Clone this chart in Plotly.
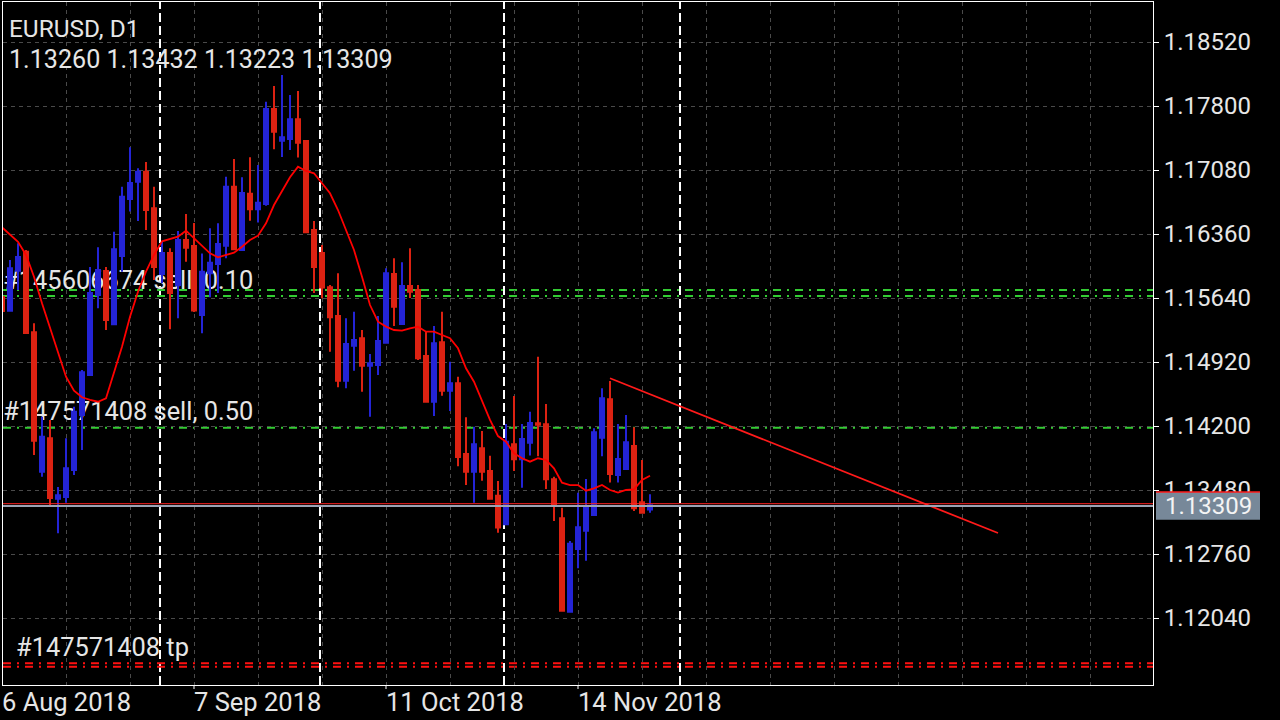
import plotly.graph_objects as go

# ---------------- data ----------------
symbol_title = "EURUSD, D1"
ohlc_title = "1.13260 1.13432 1.13223 1.13309"

bar_index = list(range(82))  # daily bars starting 6 Aug 2018

open_prices = [1.15651, 1.15497, 1.15947, 1.16161, 1.15254, 1.13686, 1.14061, 1.13382, 1.13401, 1.13705,
               1.14324, 1.14774, 1.15674, 1.15944, 1.15344, 1.16113, 1.16754, 1.16948, 1.17061, 1.16649,
               1.15910, 1.16146, 1.15786, 1.16293, 1.16225, 1.15449, 1.15918, 1.16023, 1.16228, 1.16892,
               1.16180, 1.16814, 1.16638, 1.16698, 1.17766, 1.17410, 1.17429, 1.17650, 1.17406, 1.16405,
               1.16146, 1.15760, 1.15437, 1.14710, 1.15103, 1.15187, 1.14878, 1.14887, 1.15137, 1.15910,
               1.15347, 1.15775, 1.15730, 1.14988, 1.14473, 1.15142, 1.14597, 1.14680, 1.13885, 1.13686,
               1.13949, 1.13694, 1.13415, 1.13094, 1.13994, 1.13825, 1.14012, 1.14230, 1.14219, 1.13600,
               1.13162, 1.12111, 1.12816, 1.13022, 1.13199, 1.14068, 1.14500, 1.13649, 1.13716, 1.13975,
               1.13342, 1.13260]
high_prices = [1.15719, 1.16068, 1.16255, 1.16180, 1.15355, 1.14305, 1.14268, 1.13513, 1.14061, 1.14417,
               1.14830, 1.15988, 1.16210, 1.15988, 1.16386, 1.16892, 1.17335, 1.17099, 1.17170, 1.16892,
               1.16273, 1.16199, 1.16394, 1.16585, 1.16484, 1.16140, 1.16424, 1.16480, 1.17005, 1.17204,
               1.16998, 1.17223, 1.17136, 1.17848, 1.18025, 1.18149, 1.17924, 1.17969, 1.17418, 1.16506,
               1.16236, 1.15786, 1.15918, 1.15412, 1.15486, 1.15280, 1.15010, 1.15437, 1.15974, 1.16087,
               1.16042, 1.16199, 1.15786, 1.15261, 1.15325, 1.15486, 1.14923, 1.14755, 1.14298, 1.14192,
               1.14144, 1.13866, 1.13581, 1.14223, 1.14538, 1.14223, 1.14361, 1.14980, 1.14448, 1.13629,
               1.13281, 1.12906, 1.13450, 1.13604, 1.14174, 1.14624, 1.14706, 1.14223, 1.14324, 1.14185,
               1.13818, 1.13432]
low_prices = [1.15449, 1.15486, 1.15730, 1.15240, 1.13874, 1.13630, 1.13292, 1.12993, 1.13337, 1.13649,
              1.13930, 1.14770, 1.15524, 1.15280, 1.15340, 1.15936, 1.16613, 1.16506, 1.16405, 1.15843,
              1.15809, 1.15288, 1.15412, 1.16048, 1.15482, 1.15243, 1.15648, 1.15696, 1.16087, 1.16185,
              1.16178, 1.16510, 1.16488, 1.16678, 1.17313, 1.17226, 1.17305, 1.17221, 1.16375, 1.15696,
              1.15636, 1.15036, 1.14635, 1.14624, 1.14822, 1.14586, 1.14305, 1.14774, 1.15135, 1.15325,
              1.15345, 1.15641, 1.14943, 1.14470, 1.14313, 1.14541, 1.14369, 1.13746, 1.13536, 1.13337,
              1.13585, 1.13379, 1.13000, 1.13090, 1.13694, 1.13506, 1.13868, 1.13860, 1.13491, 1.13131,
              1.12120, 1.12108, 1.12599, 1.12685, 1.13188, 1.13860, 1.13565, 1.13565, 1.13713, 1.13244,
              1.13222, 1.13223]
close_prices = [1.15494, 1.15974, 1.16101, 1.15246, 1.14035, 1.14080, 1.13389, 1.13420, 1.13724, 1.14361,
                1.14804, 1.15696, 1.15955, 1.15393, 1.16188, 1.16780, 1.16934, 1.17061, 1.16630, 1.15988,
                1.16146, 1.15696, 1.16293, 1.16206, 1.15499, 1.15936, 1.16037, 1.16248, 1.16892, 1.16188,
                1.16821, 1.16638, 1.16712, 1.17766, 1.17511, 1.17448, 1.17650, 1.17387, 1.16379, 1.15988,
                1.15758, 1.15423, 1.14710, 1.15123, 1.15168, 1.14878, 1.14905, 1.15156, 1.15918, 1.15542,
                1.15775, 1.15711, 1.14962, 1.14473, 1.15130, 1.14597, 1.14680, 1.13851, 1.13686, 1.13994,
                1.13686, 1.13382, 1.13058, 1.14023, 1.13825, 1.14054, 1.14234, 1.14215, 1.13600, 1.13311,
                1.12122, 1.12874, 1.13060, 1.13281, 1.14129, 1.14512, 1.13660, 1.13829, 1.14017, 1.13274,
                1.13225, 1.13309]
ma_values = [1.16435, 1.16359, 1.16273, 1.16124, 1.15879, 1.15580, 1.15299, 1.15017, 1.14755, 1.14597,
             1.14523, 1.14493, 1.14473, 1.14511, 1.14792, 1.15092, 1.15430, 1.15711, 1.15936, 1.16124,
             1.16278, 1.16300, 1.16330, 1.16397, 1.16312, 1.16217, 1.16143, 1.16098, 1.16124, 1.16150,
             1.16217, 1.16293, 1.16341, 1.16480, 1.16686, 1.16836, 1.16998, 1.17117, 1.17069, 1.17043,
             1.16930, 1.16818, 1.16630, 1.16405, 1.16180, 1.15879, 1.15561, 1.15374, 1.15318, 1.15280,
             1.15272, 1.15299, 1.15318, 1.15261, 1.15261, 1.15224, 1.15187, 1.15074, 1.14849, 1.14698,
             1.14493, 1.14268, 1.14087, 1.14023, 1.13893, 1.13837, 1.13799, 1.13837, 1.13818, 1.13724,
             1.13562, 1.13536, 1.13536, 1.13472, 1.13499, 1.13536, 1.13480, 1.13450, 1.13480, 1.13488,
             1.13593, 1.13641]

price_ticks = [1.18520, 1.17800, 1.17080, 1.16360, 1.15640, 1.14920, 1.14200, 1.13480, 1.12760, 1.12040]
date_tick_bars = [0, 24, 48, 72]
date_tick_labels = ["6 Aug 2018", "7 Sep 2018", "11 Oct 2018", "14 Nov 2018"]
grid_bars = list(range(0, 144, 8))
separator_bars = [20, 40, 63, 85]  # month starts: Sep, Oct, Nov, Dec

order_lines = [1.15730, 1.15663, 1.14181]
tp_lines = [1.11530, 1.11492]
order_labels = ["#145606674 sell, 0.10", "#147571408 sell, 0.50", "#147571408 tp"]
label_line_prices = [1.15663, 1.14181, 1.11530]
label_bars = [0.15, 0.15, 1.75]

trend_bars = [76, 124.5]
trend_prices = [1.14737, 1.12996]

bid_price = 1.13309
ask_price = 1.13326

# ---------------- geometry / style ----------------
X_RANGE = [0.125, 143.875]
Y_RANGE = [1.112863, 1.189700]
ML, MR, MT, MB = 3, 127, 2, 35
W, H = 1280, 720
PW, PH = W - ML - MR, H - MT - MB
PPX = (Y_RANGE[1] - Y_RANGE[0]) / PH  # price per pixel

RED = "#dc2212"
BLUE = "#2424d6"
GREEN = "#33cc33"
GRID = "#4a4a4a"
TXT = "#e6e6e6"
FONT = "Roboto"


def xpaper(px):
    return (px - ML) / PW


def ypaper(py):
    return (H - MB - py) / PH


def bar_paper(b):
    return (b - X_RANGE[0]) / (X_RANGE[1] - X_RANGE[0])


fig = go.Figure()

# order labels (under the candles)
fig.add_trace(go.Scatter(
    x=label_bars,
    y=[p + 13.7 * PPX for p in label_line_prices],
    mode="text", text=order_labels, textposition="middle right",
    textfont=dict(family=FONT, size=25.4, color=TXT),
    hoverinfo="skip", showlegend=False,
))

fig.add_trace(go.Candlestick(
    x=bar_index, open=open_prices, high=high_prices, low=low_prices, close=close_prices,
    xaxis="x2", yaxis="y2", whiskerwidth=0,
    increasing=dict(line=dict(color=BLUE, width=2), fillcolor=BLUE),
    decreasing=dict(line=dict(color=RED, width=2), fillcolor=RED),
    showlegend=False, hoverinfo="skip",
))

fig.add_trace(go.Scatter(
    x=bar_index, y=ma_values, mode="lines", xaxis="x2", yaxis="y2",
    line=dict(color="#ff0000", width=1.8), showlegend=False, hoverinfo="skip",
))

fig.add_trace(go.Scatter(
    x=trend_bars, y=trend_prices, mode="lines", xaxis="x2", yaxis="y2",
    line=dict(color="#ff1a1a", width=1.8), showlegend=False, hoverinfo="skip",
))

shapes = []
for b in separator_bars:
    shapes.append(dict(type="line", xref="x", yref="y", x0=b - 0.25, x1=b - 0.25,
                       y0=Y_RANGE[0], y1=Y_RANGE[1], layer="below",
                       line=dict(color="#ffffff", width=2, dash="9px,4px")))
for p in order_lines:
    shapes.append(dict(type="line", xref="x", yref="y", x0=X_RANGE[0], x1=X_RANGE[1],
                       y0=p, y1=p, layer="below",
                       line=dict(color=GREEN, width=2, dash="8px,6px,2px,6px")))
for p in tp_lines:
    shapes.append(dict(type="line", xref="x", yref="y", x0=X_RANGE[0], x1=X_RANGE[1],
                       y0=p, y1=p, layer="below",
                       line=dict(color="#ff1010", width=2, dash="8px,6px,2px,6px")))
# bid / ask lines
shapes.append(dict(type="line", xref="x", yref="y", x0=X_RANGE[0], x1=X_RANGE[1],
                   y0=ask_price, y1=ask_price, layer="above",
                   line=dict(color="#ff2020", width=1)))
shapes.append(dict(type="line", xref="x", yref="y", x0=X_RANGE[0], x1=X_RANGE[1],
                   y0=bid_price - 0.8 * PPX, y1=bid_price - 0.8 * PPX, layer="above",
                   line=dict(color="#9aa4b4", width=2)))
# date tick marks
for b in date_tick_bars[1:]:
    shapes.append(dict(type="line", xref="x", yref="paper", x0=b, x1=b,
                       y0=0, y1=-4 / PH, layer="above",
                       line=dict(color="#ffffff", width=1)))
# current price box
box_top = bid_price + 13.3 * PPX
box_bot = bid_price - 14.5 * PPX
shapes.append(dict(type="rect", xref="paper", yref="y", x0=xpaper(1156), x1=xpaper(1260),
                   y0=box_bot, y1=box_top, layer="above",
                   fillcolor="#778899", line=dict(width=0)))
shapes.append(dict(type="line", xref="paper", yref="y", x0=xpaper(1156), x1=xpaper(1260),
                   y0=box_top, y1=box_top, layer="above",
                   line=dict(color="#ff1a1a", width=1.5)))

annotations = [
    dict(text=symbol_title, xref="paper", yref="paper", x=xpaper(8), y=ypaper(29),
         xanchor="left", yanchor="middle", showarrow=False, borderpad=0,
         font=dict(family=FONT, size=24.4, color=TXT)),
    dict(text=ohlc_title, xref="paper", yref="paper", x=xpaper(8), y=ypaper(60),
         xanchor="left", yanchor="middle", showarrow=False, borderpad=0,
         font=dict(family=FONT, size=25.1, color=TXT)),
    dict(text=f"{bid_price:.5f}", xref="paper", yref="y", x=xpaper(1208), y=bid_price - 0.5 * PPX,
         xanchor="center", yanchor="middle", showarrow=False, borderpad=0,
         font=dict(family=FONT, size=24, color="#f4f4f4")),
]
for b, lab in zip(date_tick_bars, date_tick_labels):
    annotations.append(dict(text=lab, xref="paper", yref="paper",
                            x=bar_paper(b) - 1.5 / PW, y=ypaper(702),
                            xanchor="left", yanchor="middle", showarrow=False, borderpad=0,
                            font=dict(family=FONT, size=25.5, color=TXT)))

fig.update_layout(
    width=W, height=H,
    margin=dict(l=ML, r=MR, t=MT, b=MB, pad=0),
    paper_bgcolor="#000000", plot_bgcolor="#000000",
    font=dict(family=FONT, color=TXT),
    showlegend=False,
    boxgap=0.5, boxgroupgap=0,
    xaxis=dict(range=X_RANGE, tickvals=grid_bars, showticklabels=False, ticks="",
               showgrid=True, gridcolor=GRID, griddash="4px,4px", gridwidth=1,
               zeroline=False, showline=True, mirror=True, linecolor="#ffffff", linewidth=1,
               rangeslider=dict(visible=False), fixedrange=True),
    yaxis=dict(range=Y_RANGE, side="right", tickvals=price_ticks,
               ticktext=[f"{v:.5f}" for v in price_ticks],
               ticks="outside", ticklen=5, tickwidth=1, tickcolor="#ffffff",
               tickfont=dict(family=FONT, size=24, color=TXT),
               showgrid=True, gridcolor=GRID, griddash="4px,4px", gridwidth=1,
               zeroline=False, showline=True, mirror=True, linecolor="#ffffff", linewidth=1,
               fixedrange=True),
    xaxis2=dict(overlaying="x", anchor="y2", range=X_RANGE, visible=False,
                rangeslider=dict(visible=False), fixedrange=True),
    yaxis2=dict(overlaying="y", anchor="x2", range=Y_RANGE, visible=False, fixedrange=True),
    shapes=shapes,
    annotations=annotations,
)

fig.write_html("out.html", config={"displayModeBar": False})
